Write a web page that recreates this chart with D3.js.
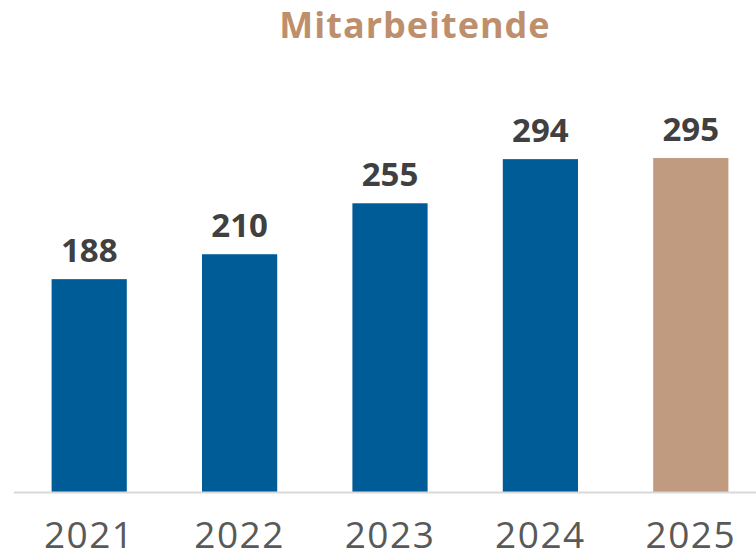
<!DOCTYPE html>
<html>
<head>
<meta charset="utf-8">
<script src="https://cdn.jsdelivr.net/npm/d3@7"></script>
<style>
  body { margin: 0; background: #fff; }
  svg text { font-family: 'Open Sans', sans-serif; }
</style>
</head>
<body>
<div id="root"></div>
<script>
const years = ['2021', '2022', '2023', '2024', '2025']
const values = [188, 210, 255, 294, 295]
const highlight = ['2025']

const dimensions = {
  width: 756,
  height: 556
}

const svg = d3.select('#root').append('svg')
  .attr('width', dimensions.width)
  .attr('height', dimensions.height)

const xScale = d3.scaleBand()
  .domain(years)
  .range([14, 766])
  .paddingInner(0.5)
  .paddingOuter(0.25)

const yScale = d3.scaleLinear()
  .domain([0, 295])
  .range([492, 158])

// title
svg.append('text')
  .text('Mitarbeitende')
  .attr('x', 415)
  .attr('y', 38)
  .attr('font-size', '36px')
  .attr('font-weight', 700)
  .attr('fill', '#BE8F6C')
  .style('text-anchor', 'middle')
  .style('letter-spacing', '1px')

// bars
svg.selectAll('rect.bar')
  .data(years)
  .join('rect')
  .attr('class', 'bar')
  .attr('x', d => xScale(d))
  .attr('width', xScale.bandwidth())
  .attr('y', (d, i) => yScale(values[i]))
  .attr('height', (d, i) => yScale(0) - yScale(values[i]))
  .attr('fill', d => highlight.includes(d) ? '#C19B7F' : '#005C96')

// value labels
svg.selectAll('text.value')
  .data(years)
  .join('text')
  .attr('class', 'value')
  .attr('x', d => xScale(d) + xScale.bandwidth() / 2)
  .attr('y', (d, i) => yScale(values[i]) - 17)
  .attr('font-size', '33px')
  .attr('font-weight', 700)
  .attr('fill', '#404040')
  .style('text-anchor', 'middle')
  .text((d, i) => values[i])

// axis
const xAxis = svg.append('g')
  .attr('transform', `translate(0, ${yScale(0)})`)
  .call(d3.axisBottom(xScale).tickSize(0).tickPadding(30))
xAxis.select('.domain')
  .attr('d', 'M14,0.5H756')
  .attr('stroke', '#D9D9D9')
  .attr('stroke-width', 2)
xAxis.selectAll('.tick text')
  .attr('font-size', '37px')
  .attr('font-family', "'Open Sans', sans-serif")
  .attr('fill', '#595959')
  .attr('dy', '0.71em')
  .style('letter-spacing', '1.5px')
</script>
</body>
</html>
